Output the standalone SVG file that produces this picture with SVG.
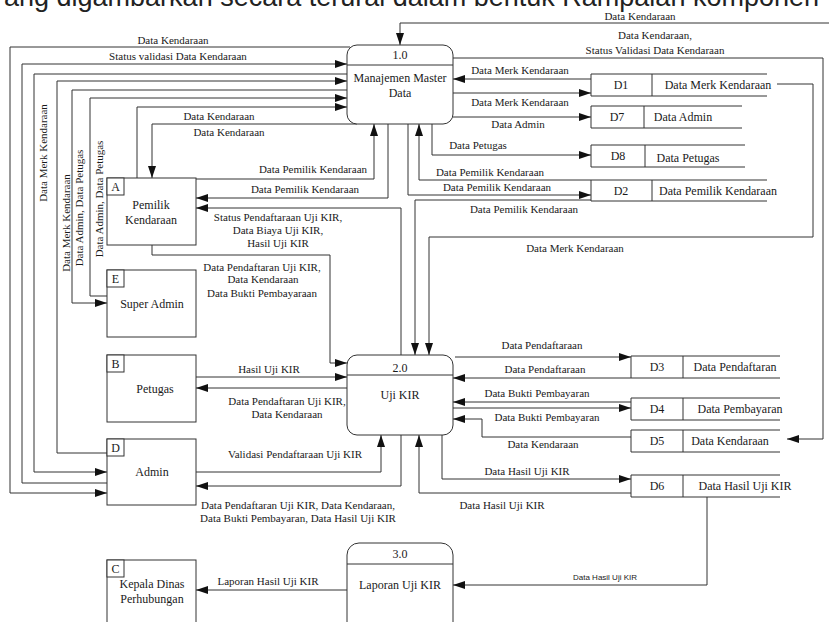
<svg xmlns="http://www.w3.org/2000/svg" width="829" height="622" viewBox="0 0 829 622">
<defs>
<marker id="ar" markerWidth="12" markerHeight="8" refX="12" refY="4" orient="auto" markerUnits="userSpaceOnUse"><path d="M0,0 L12,4 L0,8 z" fill="#111"/></marker>
</defs>
<style>
.bx{fill:#fff;stroke:#333;stroke-width:1}
.ln{fill:none;stroke:#333;stroke-width:1}
.c{fill:none;stroke:#333;stroke-width:1;marker-end:url(#ar)}
text{font-family:"Liberation Serif","Times New Roman",serif;fill:#1a1a1a}
.l{font-size:11px;text-anchor:middle}
.t{font-size:12px;text-anchor:middle}
.s{font-family:"Liberation Sans",Arial,sans-serif;font-size:8px;text-anchor:middle}
.h{font-family:"Liberation Sans",Arial,sans-serif;font-size:27px;fill:#222}
</style>
<rect width="829" height="622" fill="#fff"/>
<text class="h" x="4" y="6">ang digambarkan secara terurai dalam bentuk Rampaian komponen</text>

<g id="connectors">
<path class="c" d="M350,47 H10 V493 H107"/>
<path class="c" d="M107,483 H22 V64 H347"/>
<path class="c" d="M350,74 H34 V472 H107"/>
<path class="c" d="M107,453 H57 V81 H347"/>
<path class="c" d="M348,90 H72 V303 H107"/>
<path class="c" d="M107,296 H90 V98 H347"/>
<path class="c" d="M137,178 V107 H347"/>
<path class="c" d="M357,124 H152 V178"/>
<path class="c" d="M196,179 H374 V124"/>
<path class="c" d="M388,124 V198 H196"/>
<path class="c" d="M408,124 V195 H591"/>
<path class="c" d="M591,180 H419 V124"/>
<path class="c" d="M432,124 V155 H591"/>
<path class="c" d="M591,79 H453"/>
<path class="c" d="M453,93 H591"/>
<path class="c" d="M453,117 H591"/>
<path class="c" d="M453,58 H823 V439 H787"/>
<path class="c" d="M829,23 H400 V45"/>
<path class="c" d="M777,84 H813 V237 H429 V355"/>
<path class="c" d="M591,200 H415 V355"/>
<path class="c" d="M152,245 V255 H330 V363 H347"/>
<path class="c" d="M401,355 V208 H196"/>
<path class="c" d="M196,377 H347"/>
<path class="c" d="M347,388 H196"/>
<path class="c" d="M196,472 H381 V435"/>
<path class="c" d="M401,435 V486 H196"/>
<path class="c" d="M455,357 H631"/>
<path class="c" d="M631,378 H453"/>
<path class="c" d="M631,402 H453"/>
<path class="c" d="M453,408 H631"/>
<path class="c" d="M631,437 H482 V419 H453"/>
<path class="c" d="M442,435 V479 H631"/>
<path class="c" d="M631,493 H419 V435"/>
<path class="c" d="M707,497 V585 H453"/>
<path class="c" d="M347,590 H196"/>

<text class="l" x="173" y="44">Data Kendaraan</text>
<text class="l" x="178" y="60">Status validasi Data Kendaraan</text>
<text class="l" x="219" y="120">Data Kendaraan</text>
<text class="l" x="229" y="136">Data Kendaraan</text>
<text class="l" x="640" y="20">Data Kendaraan</text>
<text class="l" x="655" y="39">Data Kendaraan,</text>
<text class="l" x="655" y="54">Status Validasi Data Kendaraan</text>
<text class="l" x="520" y="74">Data Merk Kendaraan</text>
<text class="l" x="520" y="106">Data Merk Kendaraan</text>
<text class="l" x="518" y="128">Data Admin</text>
<text class="l" x="478" y="149">Data Petugas</text>
<text class="l" x="490" y="176">Data Pemilik Kendaraan</text>
<text class="l" x="497" y="191">Data Pemilik Kendaraan</text>
<text class="l" x="524" y="213">Data Pemilik Kendaraan</text>
<text class="l" x="575" y="252">Data Merk Kendaraan</text>
<text class="l" x="313" y="173">Data Pemilik Kendaraan</text>
<text class="l" x="305" y="193">Data Pemilik Kendaraan</text>
<text class="l" x="278" y="221">Status Pendaftaraan Uji KIR,</text>
<text class="l" x="278" y="234">Data Biaya Uji KIR,</text>
<text class="l" x="278" y="247">Hasil Uji KIR</text>
<text class="l" x="262" y="271">Data Pendaftaran Uji KIR,</text>
<text class="l" x="263" y="283">Data Kendaraan</text>
<text class="l" x="262" y="297">Data Bukti Pembayaraan</text>
<text class="l" x="269" y="373">Hasil Uji KIR</text>
<text class="l" x="287" y="405">Data Pendaftaran Uji KIR,</text>
<text class="l" x="287" y="418">Data Kendaraan</text>
<text class="l" x="295" y="458">Validasi Pendaftaraan Uji KIR</text>
<text class="l" x="298" y="509">Data Pendaftaran Uji KIR, Data Kendaraan,</text>
<text class="l" x="298" y="522">Data Bukti Pembayaran, Data Hasil Uji KIR</text>
<text class="l" x="542" y="349">Data Pendaftaraan</text>
<text class="l" x="545" y="373">Data Pendaftaraan</text>
<text class="l" x="537" y="397">Data Bukti Pembayaran</text>
<text class="l" x="547" y="421">Data Bukti Pembayaran</text>
<text class="l" x="543" y="448">Data Kendaraan</text>
<text class="l" x="527" y="475">Data Hasil Uji KIR</text>
<text class="l" x="502" y="509">Data Hasil Uji KIR</text>
<text class="l" x="268" y="585">Laporan Hasil Uji KIR</text>
<text class="s" x="605" y="580">Data Hasil Uji KIR</text>
<text class="l" transform="translate(43,153) rotate(-90)" x="0" y="4">Data Merk Kendaraan</text>
<text class="l" transform="translate(66,223) rotate(-90)" x="0" y="4">Data Merk Kendaraan</text>
<text class="l" transform="translate(79,208) rotate(-90)" x="0" y="4">Data Admin, Data Petugas</text>
<text class="l" transform="translate(99,199) rotate(-90)" x="0" y="4">Data Admin, Data Petugas</text>
</g>

<g id="p1">
<rect class="bx" x="347" y="45" width="106" height="79" rx="10"/>
<line class="ln" x1="347" y1="65" x2="453" y2="65"/>
<text class="t" x="400" y="59">1.0</text>
<text class="t" x="400" y="82">Manajemen Master</text>
<text class="t" x="400" y="97">Data</text>
</g>
<g id="p2">
<rect class="bx" x="347" y="355" width="106" height="80" rx="10"/>
<line class="ln" x1="347" y1="375" x2="453" y2="375"/>
<text class="t" x="400" y="372">2.0</text>
<text class="t" x="400" y="399">Uji KIR</text>
</g>
<g id="p3">
<rect class="bx" x="347" y="543" width="106" height="92" rx="12"/>
<line class="ln" x1="347" y1="564" x2="453" y2="564"/>
<text class="t" x="400" y="558">3.0</text>
<text class="t" x="400" y="589">Laporan Uji KIR</text>
</g>

<g id="pemilik">
<rect class="bx" x="107" y="178" width="89" height="67"/>
<rect class="bx" x="107" y="178" width="17" height="17"/>
<text class="t" x="115.5" y="191">A</text>
<text class="t" x="151" y="209">Pemilik</text>
<text class="t" x="151" y="224">Kendaraan</text>
</g>
<g id="superadmin">
<rect class="bx" x="107" y="270" width="89" height="67"/>
<rect class="bx" x="107" y="270" width="17" height="17"/>
<text class="t" x="115.5" y="283">E</text>
<text class="t" x="152" y="308">Super Admin</text>
</g>
<g id="petugas">
<rect class="bx" x="107" y="355" width="89" height="67"/>
<rect class="bx" x="107" y="355" width="17" height="17"/>
<text class="t" x="115.5" y="368">B</text>
<text class="t" x="155" y="393">Petugas</text>
</g>
<g id="admin">
<rect class="bx" x="107" y="439" width="89" height="66"/>
<rect class="bx" x="107" y="439" width="17" height="17"/>
<text class="t" x="115.5" y="452">D</text>
<text class="t" x="152" y="476">Admin</text>
</g>
<g id="kepala">
<rect class="bx" x="107" y="560" width="89" height="80"/>
<rect class="bx" x="107" y="560" width="17" height="17"/>
<text class="t" x="115.5" y="573">C</text>
<text class="t" x="152" y="588">Kepala Dinas</text>
<text class="t" x="152" y="603">Perhubungan</text>
</g>

<g id="d1">
<path class="ln" d="M767,74 H591 V96 H767 M652,74 V96"/>
<text class="t" x="621" y="89">D1</text>
<text class="t" x="718" y="89">Data Merk Kendaraan</text>
</g>
<g id="d7">
<path class="ln" d="M742,106 H591 V128 H742 M644,106 V128"/>
<text class="t" x="617" y="121">D7</text>
<text class="t" x="683" y="121">Data Admin</text>
</g>
<g id="d8">
<path class="ln" d="M745,145 H591 V167 H745 M645,145 V167"/>
<text class="t" x="618" y="160">D8</text>
<text class="t" x="688" y="162">Data Petugas</text>
</g>
<g id="d2">
<path class="ln" d="M767,180 H591 V201 H767 M652,180 V201"/>
<text class="t" x="621" y="195">D2</text>
<text class="t" x="718" y="195">Data Pemilik Kendaraan</text>
</g>
<g id="d3">
<path class="ln" d="M780,356 H631 V378 H780 M683,356 V378"/>
<text class="t" x="657" y="371">D3</text>
<text class="t" x="735" y="371">Data Pendaftaran</text>
</g>
<g id="d4">
<path class="ln" d="M780,398 H631 V420 H780 M683,398 V420"/>
<text class="t" x="657" y="413">D4</text>
<text class="t" x="740" y="413">Data Pembayaran</text>
</g>
<g id="d5">
<path class="ln" d="M780,430 H631 V452 H780 M683,430 V452"/>
<text class="t" x="657" y="445">D5</text>
<text class="t" x="730" y="445">Data Kendaraan</text>
</g>
<g id="d6">
<path class="ln" d="M780,475 H631 V497 H780 M683,475 V497"/>
<text class="t" x="657" y="490">D6</text>
<text class="t" x="745" y="490">Data Hasil Uji KIR</text>
</g>
</svg>
